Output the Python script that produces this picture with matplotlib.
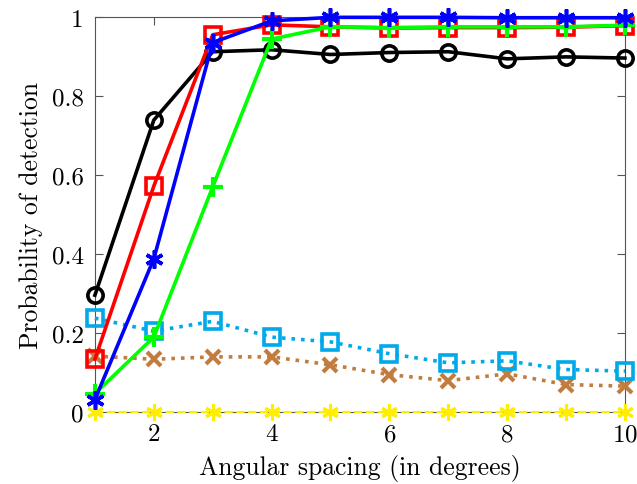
import matplotlib
matplotlib.use("Agg")
import matplotlib.pyplot as plt

plt.rcParams['font.family'] = 'cmr10'
plt.rcParams['mathtext.fontset'] = 'cm'
plt.rcParams['axes.formatter.use_mathtext'] = True

spacing = [1, 2, 3, 4, 5, 6, 7, 8, 9, 10]

black_circ = [0.296, 0.739, 0.912, 0.917, 0.905, 0.91, 0.912, 0.894, 0.899, 0.896]
red_sq = [0.134, 0.572, 0.955, 0.98, 0.975, 0.972, 0.973, 0.973, 0.974, 0.978]
blue_star = [0.032, 0.388, 0.935, 0.99, 0.999, 0.999, 0.999, 0.998, 0.998, 0.998]
green_plus = [0.047, 0.19, 0.57, 0.944, 0.975, 0.973, 0.975, 0.975, 0.975, 0.979]
cyan_sq = [0.238, 0.205, 0.23, 0.19, 0.178, 0.148, 0.125, 0.13, 0.108, 0.104]
brown_x = [0.142, 0.134, 0.14, 0.14, 0.12, 0.095, 0.08, 0.097, 0.07, 0.066]
yellow_star = [0, 0, 0, 0, 0, 0, 0, 0, 0, 0]

asterisk = (6, 2, 0)

fig = plt.figure(figsize=(6.37, 4.85), dpi=100)
ax = fig.add_axes([0.149, 0.148, 0.832, 0.815])

lw = 2.6
ax.plot(spacing, yellow_star, '--', color='#FFEE00', lw=1.6, marker=asterisk,
        ms=12, mew=2.2, zorder=3, clip_on=False)
ax.plot(spacing, brown_x, ':', color='#C17D3F', lw=lw, marker='x', ms=10,
        mew=3, zorder=4, clip_on=False)
ax.plot(spacing, cyan_sq, ':', color='#00A9E9', lw=lw, marker='s', ms=11,
        mew=2.6, mfc='none', zorder=4, clip_on=False)
ax.plot(spacing, black_circ, '-', color='black', lw=lw, marker='o', ms=11,
        mew=2.6, mfc='none', zorder=5, clip_on=False)
ax.plot(spacing, red_sq, '-', color='#FF0000', lw=lw, marker='s', ms=11,
        mew=2.6, mfc='none', zorder=5, clip_on=False)
ax.plot(spacing, green_plus, '-', color='#00FF00', lw=lw, marker='+', ms=14,
        mew=3, zorder=6, clip_on=False)
ax.plot(spacing, blue_star, '-', color='#0000FF', lw=lw, marker=asterisk,
        ms=13, mew=2.6, zorder=6, clip_on=False)

ax.set_xlim(1, 10)
ax.set_ylim(0, 1)
ax.set_xticks([2, 4, 6, 8, 10])
ax.set_yticks([0, 0.2, 0.4, 0.6, 0.8, 1])
ax.set_yticklabels(['0', '0.2', '0.4', '0.6', '0.8', '1'])
ax.tick_params(direction='in', top=True, right=True, length=6, width=0.8,
               color='#555555', labelsize=18, pad=8)
for s in ax.spines.values():
    s.set_color('#555555')
    s.set_linewidth(0.8)

ax.set_xlabel('Angular spacing (in degrees)', fontsize=18.5, labelpad=6)
ax.set_ylabel('Probability of detection', fontsize=18.5, labelpad=6)

fig.savefig('out.png', dpi=100)
